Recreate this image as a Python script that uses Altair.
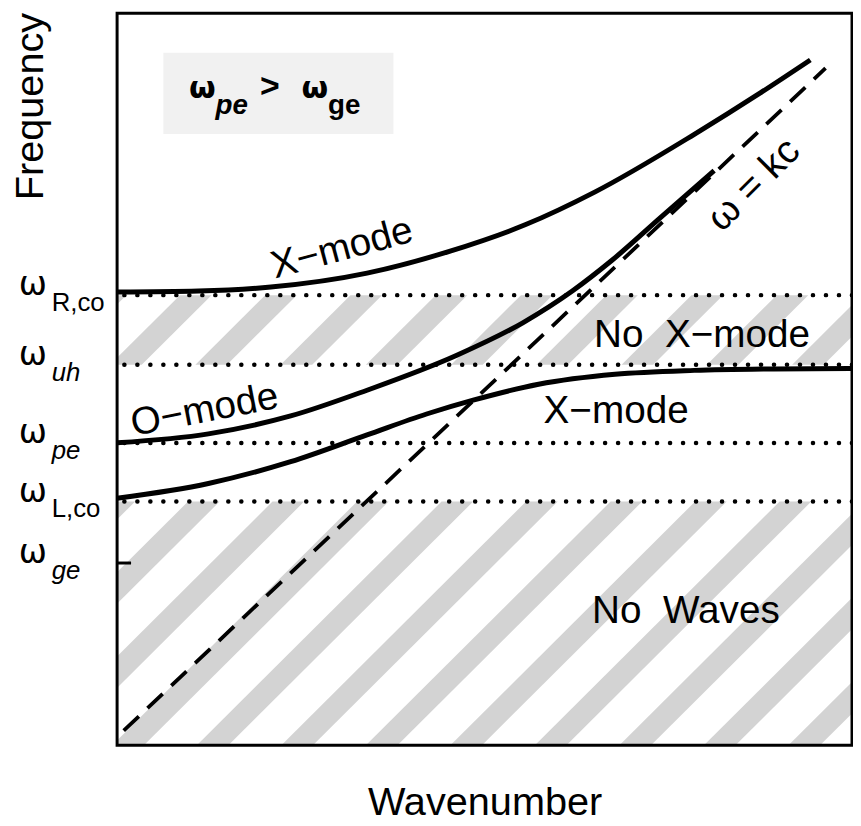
import altair as alt
import pandas as pd

W, H = 741, 738
FONT = "Liberation Sans"

# ---------------- data (frequency / wavenumber in arbitrary units 0-100) ----------------
level_names = ["R,co", "uh", "pe", "L,co", "ge"]
level_values = [61.5, 52.0, 41.3, 33.3, 24.9]
level_italic = [False, True, True, False, True]
dotted_levels = [61.5, 52.0, 41.3, 33.3]
ge_tick_level = [24.9]
ge_tick_k = [0.0, 1.9]

xmode_hi_k = [0, 11.07, 20.92, 34.01, 45.21, 55.60, 65.05, 78.54, 87.58, 94.33]
xmode_hi_w = [61.92, 62.06, 62.60, 64.50, 67.48, 71.14, 75.61, 83.47, 89.16, 93.63]
omode_k = [0, 12.42, 23.62, 34.01, 46.15, 55.20, 61.94, 67.34, 74.09, 81.24]
omode_w = [41.33, 42.55, 44.99, 48.51, 53.25, 57.72, 62.06, 66.26, 72.22, 78.50]
xmode_lo_k = [0, 12.42, 23.62, 34.01, 42.11, 48.45, 57.35, 67.75, 78.54, 89.34, 100]
xmode_lo_w = [33.74, 35.77, 38.75, 42.41, 45.26, 47.15, 49.32, 50.68, 51.22, 51.42, 51.49]
light_k = [0.9, 96.4]
light_w = [2.0, 92.5]

# hatched bands
nowave_band = [0.0, 33.3]
nowave_centers = [-33.0, -21.5, -10.0, 1.5, 13.0, 24.5, 36.0, 47.5, 59.0, 70.5, 82.0, 93.5]
nox_band = [52.0, 61.5]
nox_centers = [-10.4, 1.2, 12.8, 24.4, 36.0, 47.6, 59.2, 70.8, 82.4, 94.0]
stripe_width = 4.3

# label box for the condition
box_k = [6.3, 37.6]
box_w = [83.5, 94.6]

curve_labels = ["X\u2212mode", "O\u2212mode", "X\u2212mode", "No\u00a0\u00a0X\u2212mode", "No\u00a0\u00a0Waves", "\u03c9 = kc"]
curve_label_k = [30.6, 11.9, 67.9, 79.6, 77.4, 86.6]
curve_label_w = [67.9, 45.8, 45.7, 56.1, 18.3, 76.6]
curve_label_angle = [345, 349, 0, 0, 0, 315]

cond_omega_k = [11.6, 26.9]
cond_omega_w = [88.5, 88.5]
cond_sub = ["pe", "ge"]
cond_sub_k = [13.4, 28.7]
cond_sub_w = [86.2, 86.2]
cond_sub_italic = [True, False]
cond_gt_k = [20.8]
cond_gt_w = [88.6]

# ---------------- tables ----------------
curves = pd.concat([
    pd.DataFrame({"k": xmode_hi_k, "w": xmode_hi_w, "curve": "X-mode upper"}),
    pd.DataFrame({"k": omode_k, "w": omode_w, "curve": "O-mode"}),
    pd.DataFrame({"k": xmode_lo_k, "w": xmode_lo_w, "curve": "X-mode lower"}),
])
light = pd.DataFrame({"k": light_k, "w": light_w})

rows = []
for band, centers, tag in [(nowave_band, nowave_centers, "a"), (nox_band, nox_centers, "b")]:
    lo, hi = band
    for i, c in enumerate(centers):
        sid = f"{tag}{i}"
        rows.append({"id": sid, "y": lo, "xl": c - stripe_width / 2, "xr": c + stripe_width / 2})
        rows.append({"id": sid, "y": hi, "xl": c + (hi - lo) - stripe_width / 2, "xr": c + (hi - lo) + stripe_width / 2})
stripes = pd.DataFrame(rows)

levels = pd.DataFrame({"name": level_names, "w": level_values, "italic": level_italic})
dotted = pd.DataFrame({"w": dotted_levels})
tick = pd.DataFrame({"w": ge_tick_level, "k0": [ge_tick_k[0]], "k1": [ge_tick_k[1]]})
box = pd.DataFrame({"k0": [box_k[0]], "k1": [box_k[1]], "w0": [box_w[0]], "w1": [box_w[1]]})
frame = pd.DataFrame({"k0": [0], "k1": [100], "w0": [0], "w1": [100]})
labels = pd.DataFrame({"t": curve_labels, "k": curve_label_k, "w": curve_label_w, "a": curve_label_angle})
cond_om = pd.DataFrame({"t": ["\u03c9", "\u03c9"], "k": cond_omega_k, "w": cond_omega_w})
cond_s = pd.DataFrame({"t": cond_sub, "k": cond_sub_k, "w": cond_sub_w, "it": cond_sub_italic})
cond_gt = pd.DataFrame({"t": [">"], "k": cond_gt_k, "w": cond_gt_w})

# ---------------- encodings ----------------
xs = alt.Scale(domain=[0, 100], nice=False, zero=False)
ys = alt.Scale(domain=[0, 100], nice=False, zero=False)
xaxis = alt.Axis(labels=False, ticks=False, domain=False, grid=False, titleFont=FONT,
                 titleFontSize=40, titleFontWeight="normal", titleColor="black",
                 titleX=W / 2, titleY=70, titleAlign="center", titleBaseline="alphabetic", titleAngle=0)
yaxis = alt.Axis(labels=False, ticks=False, domain=False, grid=False, titleFont=FONT,
                 titleFontSize=40, titleFontWeight="normal", titleColor="black",
                 titleX=-75, titleY=93.5, titleAlign="center", titleBaseline="alphabetic", titleAngle=270)


def X(f):
    return alt.X(f"{f}:Q", scale=xs, axis=xaxis, title="Wavenumber")


def Y(f):
    return alt.Y(f"{f}:Q", scale=ys, axis=yaxis, title="Frequency")


stripe_layer = alt.Chart(stripes).mark_area(orient="horizontal", clip=True, color="#d3d3d3").encode(
    y=Y("y"), x=X("xl"), x2=alt.X2("xr"), detail="id:N")

box_layer = alt.Chart(box).mark_rect(color="#f1f1f1").encode(
    x=X("k0"), x2=alt.X2("k1"), y=Y("w0"), y2=alt.Y2("w1"))

dotted_layer = alt.Chart(dotted).mark_rule(color="black", strokeWidth=4.5, strokeDash=[0.1, 13],
                                           strokeCap="round").encode(y=Y("w"))

tick_layer = alt.Chart(tick).mark_rule(color="black", strokeWidth=3).encode(
    y=Y("w"), x=X("k0"), x2=alt.X2("k1"))

light_layer = alt.Chart(light).mark_line(color="black", strokeWidth=3.8, strokeDash=[21, 12]).encode(
    x=X("k"), y=Y("w"))

curve_layer = alt.Chart(curves).mark_line(color="black", strokeWidth=5, interpolate="monotone").encode(
    x=X("k"), y=Y("w"), detail="curve:N")

label_layer = alt.Chart(labels).mark_text(font=FONT, fontSize=39, color="black", align="center",
                                          baseline="middle").encode(
    x=X("k"), y=Y("w"), text="t:N", angle=alt.Angle("a:Q", scale=None))

omega_layer = alt.Chart(levels).mark_text(font="DejaVu Sans", fontSize=34, color="black", align="center",
                                          baseline="alphabetic", dy=0).encode(
    x=alt.value(-85), y=Y("w"), text=alt.value("\u03c9"))

sub_up_layer = alt.Chart(levels).transform_filter("!datum.italic").mark_text(
    font=FONT, fontSize=26, color="black", align="left", baseline="alphabetic", dy=16).encode(
    x=alt.value(-66), y=Y("w"), text="name:N")

sub_it_layer = alt.Chart(levels).transform_filter("datum.italic").mark_text(
    font=FONT, fontSize=26, fontStyle="italic", color="black", align="left", baseline="alphabetic", dy=16).encode(
    x=alt.value(-66), y=Y("w"), text="name:N")

cond_om_layer = alt.Chart(cond_om).mark_text(font="DejaVu Sans", fontSize=31, fontWeight="bold", color="black",
                                             align="center", baseline="alphabetic").encode(
    x=X("k"), y=Y("w"), text="t:N")

cond_sub_it = alt.Chart(cond_s).transform_filter("datum.it").mark_text(
    font=FONT, fontSize=28, fontWeight="bold", fontStyle="italic", color="black",
    align="left", baseline="alphabetic").encode(x=X("k"), y=Y("w"), text="t:N")

cond_sub_up = alt.Chart(cond_s).transform_filter("!datum.it").mark_text(
    font=FONT, fontSize=28, fontWeight="bold", color="black",
    align="left", baseline="alphabetic").encode(x=X("k"), y=Y("w"), text="t:N")

cond_gt_layer = alt.Chart(cond_gt).mark_text(font=FONT, fontSize=34, fontWeight="bold", color="black",
                                             align="center", baseline="alphabetic").encode(
    x=X("k"), y=Y("w"), text="t:N")

frame_layer = alt.Chart(frame).mark_rect(fillOpacity=0, stroke="black", strokeWidth=3).encode(
    x=X("k0"), x2=alt.X2("k1"), y=Y("w0"), y2=alt.Y2("w1"))

chart = alt.layer(
    stripe_layer, box_layer, dotted_layer, tick_layer, light_layer, curve_layer,
    label_layer, omega_layer, sub_up_layer, sub_it_layer,
    cond_om_layer, cond_sub_it, cond_sub_up, cond_gt_layer, frame_layer,
).properties(
    width=W, height=H,
    autosize=alt.AutoSizeParams(type="none"),
    padding={"left": 110, "top": 2, "right": 1, "bottom": 76},
    background="white",
).configure_view(strokeWidth=0)

chart.save("out.html", embed_options={"renderer": "svg", "actions": False})
